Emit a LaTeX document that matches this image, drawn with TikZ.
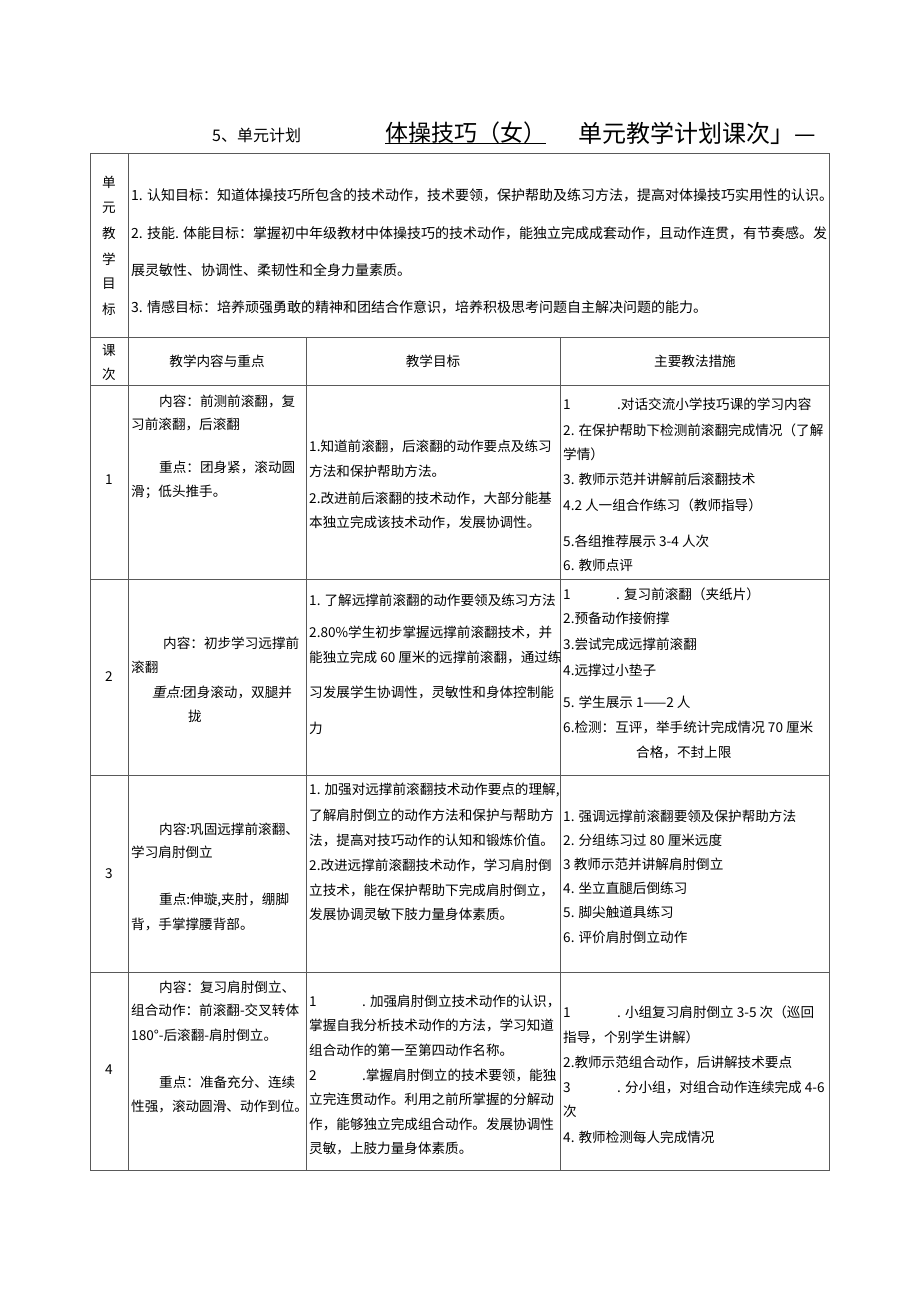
\documentclass[tikz,border=0pt]{standalone}
\usepackage{fontspec}
\setmainfont{Noto Sans CJK SC}
\newfontfamily\slantcjk[FakeSlant=0.2]{Noto Sans CJK SC}

\begin{document}
\begin{tikzpicture}[x=1pt,y=-1pt,
  grid/.style={draw=black!65,line width=0.8pt},
  cell/.style={anchor=west,inner sep=0pt,font=\fontsize{13.6}{16}\selectfont},
  goal/.style={cell,font=\fontsize{14}{16}\selectfont},
  mid/.style={inner sep=0pt,font=\fontsize{13.6}{16}\selectfont}]

 \useasboundingbox[fill=white] (0,0) rectangle (920,1301);

 % title line
 \node[anchor=west,inner sep=0pt,font=\fontsize{16}{18}\selectfont] (unit) at (212,135) {5、单元计划};
 \node[anchor=west,inner sep=0pt,font=\fontsize{23}{26}\selectfont] (topic) at (385,133) {体操技巧（女）};
 \node[anchor=west,inner sep=0pt,font=\fontsize{24}{26}\selectfont] (plan) at (578,133) {单元教学计划课次」—};
 \draw[line width=1pt] ([yshift=1pt]topic.south west) -- ([yshift=1pt]topic.south east);

 % table
 \draw[grid] (90,153) rectangle (829,1170);
 \foreach \y in {337,385,579,775,972}
   \draw[grid] (90,\y) -- (829,\y);
 \draw[grid] (128,153) -- (128,1170);
 \draw[grid] (306,337) -- (306,1170);
 \draw[grid] (560,337) -- (560,1170);

 % unit goals
 \node[mid] (k1) at (109,182) {单};
 \node[mid] (k2) at (109,208) {元};
 \node[mid] (k3) at (109,233) {教};
 \node[mid] (k4) at (109,259) {学};
 \node[mid] (k5) at (109,284) {目};
 \node[mid] (k6) at (109,309) {标};
 \node[goal] (g1) at (131,195) {1. 认知目标：知道体操技巧所包含的技术动作，技术要领，保护帮助及练习方法，提高对体操技巧实用性的认识。};
 \node[goal] (g2) at (131,233) {2. 技能. 体能目标：掌握初中年级教材中体操技巧的技术动作，能独立完成成套动作，且动作连贯，有节奏感。发};
 \node[goal] (g3) at (131,270) {展灵敏性、协调性、柔韧性和全身力量素质。};
 \node[goal] (g4) at (131,307) {3. 情感目标：培养顽强勇敢的精神和团结合作意识，培养积极思考问题自主解决问题的能力。};

 % header
 \node[mid] (h1) at (109,350) {课};
 \node[mid] (h2) at (109,374) {次};
 \node[mid] (h3) at (217,361) {教学内容与重点};
 \node[mid] (h4) at (433,361) {教学目标};
 \node[mid] (h5) at (695,361) {主要教法措施};

 % lesson 1
 \node[mid] (n1) at (109,480) {1};
 \node[cell] (a1a) at (159,401) {内容：前测前滚翻，复};
 \node[cell] (a1b) at (131,424) {习前滚翻，后滚翻};
 \node[cell] (a1c) at (159,467) {重点：团身紧，滚动圆};
 \node[cell] (a1d) at (131,492) {滑；低头推手。};
 \node[cell] (b1a) at (309,446) {1.知道前滚翻，后滚翻的动作要点及练习};
 \node[cell] (b1b) at (309,471) {方法和保护帮助方法。};
 \node[cell] (b1c) at (309,498) {2.改进前后滚翻的技术动作，大部分能基};
 \node[cell] (b1d) at (309,522) {本独立完成该技术动作，发展协调性。};
 \node[cell] (c1a) at (563,404) {\makebox[54pt][l]{1}.对话交流小学技巧课的学习内容};
 \node[cell] (c1b) at (563,430) {2. 在保护帮助下检测前滚翻完成情况（了解};
 \node[cell] (c1c) at (563,454) {学情）};
 \node[cell] (c1d) at (563,479) {3. 教师示范并讲解前后滚翻技术};
 \node[cell] (c1e) at (563,505) {4.2 人一组合作练习（教师指导）};
 \node[cell] (c1f) at (563,541) {5.各组推荐展示 3-4 人次};
 \node[cell] (c1g) at (563,565) {6. 教师点评};

 % lesson 2
 \node[mid] (n2) at (109,677) {2};
 \node[cell] (a2a) at (163,643) {内容：初步学习远撑前};
 \node[cell] (a2b) at (131,667) {滚翻};
 \node[cell] (a2c) at (152,692) {{\slantcjk 重点:}团身滚动，双腿并};
 \node[cell] (a2d) at (188,716) {拢};
 \node[cell] (b2a) at (309,600) {1. 了解远撑前滚翻的动作要领及练习方法};
 \node[cell] (b2b) at (309,632) {2.80\%学生初步掌握远撑前滚翻技术，并};
 \node[cell] (b2c) at (309,657) {能独立完成 60 厘米的远撑前滚翻，通过练};
 \node[cell] (b2d) at (309,692) {习发展学生协调性，灵敏性和身体控制能};
 \node[cell] (b2e) at (309,728) {力};
 \node[cell] (c2a) at (563,594) {\makebox[53pt][l]{1}. 复习前滚翻（夹纸片）};
 \node[cell] (c2b) at (563,618) {2.预备动作接俯撑};
 \node[cell] (c2c) at (563,644) {3.尝试完成远撑前滚翻};
 \node[cell] (c2d) at (563,670) {4.远撑过小垫子};
 \node[cell] (c2e) at (563,702) {5. 学生展示 1——2 人};
 \node[cell] (c2f) at (563,727) {6.检测：互评，举手统计完成情况 70 厘米};
 \node[cell] (c2g) at (636,752) {合格，不封上限};

 % lesson 3
 \node[mid] (n3) at (109,874) {3};
 \node[cell] (a3a) at (159,829) {内容:巩固远撑前滚翻、};
 \node[cell] (a3b) at (131,852) {学习肩肘倒立};
 \node[cell] (a3c) at (159,900) {重点:伸璇,夹肘，绷脚};
 \node[cell] (a3d) at (131,924) {背，手掌撑腰背部。};
 \node[cell] (b3a) at (309,790) {1. 加强对远撑前滚翻技术动作要点的理解,};
 \node[cell] (b3b) at (309,815) {了解肩肘倒立的动作方法和保护与帮助方};
 \node[cell] (b3c) at (309,840) {法，提高对技巧动作的认知和锻炼价值。};
 \node[cell] (b3d) at (309,865) {2.改进远撑前滚翻技术动作，学习肩肘倒};
 \node[cell] (b3e) at (309,890) {立技术，能在保护帮助下完成肩肘倒立，};
 \node[cell] (b3f) at (309,914) {发展协调灵敏下肢力量身体素质。};
 \node[cell] (c3a) at (563,816) {1. 强调远撑前滚翻要领及保护帮助方法};
 \node[cell] (c3b) at (563,840) {2. 分组练习过 80 厘米远度};
 \node[cell] (c3c) at (563,864) {3 教师示范并讲解肩肘倒立};
 \node[cell] (c3d) at (563,888) {4. 坐立直腿后倒练习};
 \node[cell] (c3e) at (563,912) {5. 脚尖触道具练习};
 \node[cell] (c3f) at (563,937) {6. 评价肩肘倒立动作};

 % lesson 4
 \node[mid] (n4) at (109,1070) {4};
 \node[cell] (a4a) at (159,987) {内容：复习肩肘倒立、};
 \node[cell] (a4b) at (131,1010) {组合动作：前滚翻-交叉转体};
 \node[cell] (a4c) at (131,1035) {180°-后滚翻-肩肘倒立。};
 \node[cell] (a4d) at (159,1082) {重点：准备充分、连续};
 \node[cell] (a4e) at (131,1106) {性强，滚动圆滑、动作到位。};
 \node[cell] (b4a) at (309,1001) {\makebox[53pt][l]{1}. 加强肩肘倒立技术动作的认识，};
 \node[cell] (b4b) at (309,1025) {掌握自我分析技术动作的方法，学习知道};
 \node[cell] (b4c) at (309,1050) {组合动作的第一至第四动作名称。};
 \node[cell] (b4d) at (309,1075) {\makebox[53pt][l]{2}.掌握肩肘倒立的技术要领，能独};
 \node[cell] (b4e) at (309,1099) {立完连贯动作。利用之前所掌握的分解动};
 \node[cell] (b4f) at (309,1124) {作，能够独立完成组合动作。发展协调性};
 \node[cell] (b4g) at (309,1148) {灵敏，上肢力量身体素质。};
 \node[cell] (c4a) at (563,1012) {\makebox[54pt][l]{1}. 小组复习肩肘倒立 3-5 次（巡回};
 \node[cell] (c4b) at (563,1037) {指导，个别学生讲解）};
 \node[cell] (c4c) at (563,1062) {2.教师示范组合动作，后讲解技术要点};
 \node[cell] (c4d) at (563,1087) {\makebox[54pt][l]{3}. 分小组，对组合动作连续完成 4-6};
 \node[cell] (c4e) at (563,1111) {次};
 \node[cell] (c4f) at (563,1137) {4. 教师检测每人完成情况};

\end{tikzpicture}
\end{document}
